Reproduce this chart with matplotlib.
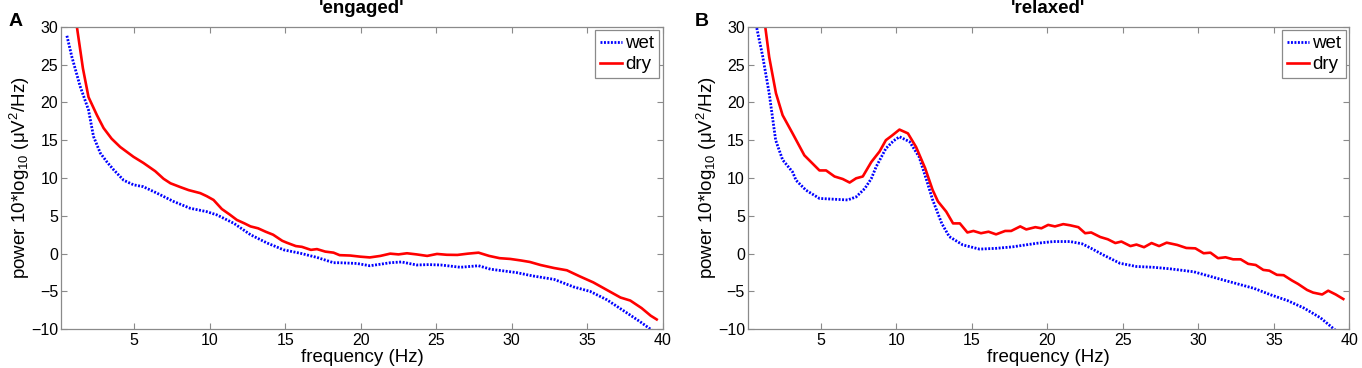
import numpy as np
import matplotlib.pyplot as plt

plt.rcParams['font.family'] = ['Liberation Sans', 'DejaVu Sans']
plt.rcParams['mathtext.fontset'] = 'custom'
plt.rcParams['mathtext.rm'] = 'Liberation Sans'
plt.rcParams['mathtext.it'] = 'Liberation Sans'

# -- 'engaged' (painel A)
f_eng_dry = [0.75, 1.2, 1.6, 1.97, 2.53, 2.97, 3.5, 4.07, 4.95, 5.6, 6.39, 6.94, 7.4, 8.05, 8.6,
             9.37, 9.8, 10.25, 10.8, 11.3, 11.8, 12.3, 12.7, 13.2, 13.7, 14.2, 14.8, 15.1, 15.7,
             16.1, 16.7, 17.1, 17.65, 18.2, 18.6, 19.3, 19.97, 20.6, 21.3, 21.95, 22.5, 23.06,
             23.7, 24.4, 25.05, 25.7, 26.4, 27.1, 27.8, 28.5, 29.2, 29.9, 30.6, 31.2, 31.9, 32.8,
             33.65, 34.5, 35.4, 36.3, 37.2, 37.85, 38.6, 39.2, 39.6]
p_eng_dry = [35, 30, 24.5, 20.7, 18.3, 16.6, 15.2, 14.1, 12.8, 12.0, 10.9, 9.9, 9.3, 8.8, 8.4,
             8.0, 7.6, 7.1, 5.9, 5.2, 4.45, 4.0, 3.6, 3.35, 2.9, 2.5, 1.7, 1.45, 1.0,
             0.9, 0.5, 0.6, 0.27, 0.13, -0.2, -0.25, -0.4, -0.5, -0.3, 0.0, -0.1, 0.05,
             -0.1, -0.3, -0.04, -0.15, -0.17, 0.0, 0.13, -0.3, -0.6, -0.7, -0.9, -1.1, -1.5, -1.9,
             -2.2, -3.0, -3.8, -4.8, -5.8, -6.2, -7.2, -8.2, -8.7]

f_eng_wet = [0.54, 0.87, 1.42, 1.97, 2.3, 2.75, 3.2, 3.63, 4.3, 4.95, 5.6, 6.5, 7.6, 8.7, 9.8,
             10.5, 11.6, 12.7, 13.8, 14.9, 16.0, 17.1, 18.2, 18.6, 19.75, 20.6, 21.3, 21.95, 22.7,
             23.7, 24.5, 25.3, 26.6, 27.8, 28.6, 30.3, 31.4, 32.8, 34.1, 35.2, 36.3, 37.6, 38.5,
             39.2, 39.6]
p_eng_wet = [28.8, 26.0, 22.1, 19.0, 15.5, 13.3, 12.1, 11.1, 9.7, 9.1, 8.85, 8.0, 6.9, 6.0, 5.55,
             5.1, 4.0, 2.5, 1.4, 0.5, 0.05, -0.5, -1.2, -1.2, -1.3, -1.6, -1.4, -1.2, -1.1,
             -1.5, -1.45, -1.5, -1.8, -1.6, -2.06, -2.5, -2.95, -3.4, -4.4, -5.0, -6.1, -7.8, -9.0,
             -10.0, -10.6]

# -- 'relaxed' (painel B)
f_rel_dry = [1.0, 1.31, 1.57, 2.02, 2.46, 3.12, 3.9, 4.9, 5.34, 5.9, 6.44, 6.9, 7.33, 7.77, 8.33,
             8.88, 9.3, 9.7, 10.2, 10.76, 11.3, 11.9, 12.4, 12.75, 13.3, 13.75, 14.2, 14.7, 15.1,
             15.6, 16.1, 16.6, 17.2, 17.6, 18.2, 18.6, 19.2, 19.6, 20.05, 20.5, 21.05, 21.5, 22.05,
             22.5, 22.9, 23.5, 24.0, 24.5, 24.9, 25.5, 25.9, 26.4, 26.9, 27.4, 27.9, 28.6, 29.2,
             29.8, 30.35, 30.8, 31.3, 31.8, 32.3, 32.8, 33.3, 33.8, 34.3, 34.7, 35.2, 35.65, 36.2,
             36.6, 37.2, 37.6, 38.2, 38.6, 39.1, 39.6]
p_rel_dry = [34, 30, 26, 21.2, 18.3, 15.9, 13.0, 11.0, 11.0, 10.2, 9.87, 9.4, 9.96, 10.2, 12.1,
             13.5, 15.0, 15.6, 16.4, 15.9, 14.1, 11.3, 8.4, 6.9, 5.55, 4.0, 4.0, 2.8, 3.0,
             2.7, 2.9, 2.55, 3.0, 3.0, 3.6, 3.2, 3.5, 3.35, 3.8, 3.6, 3.9, 3.75, 3.5,
             2.7, 2.8, 2.2, 1.9, 1.4, 1.6, 1.0, 1.2, 0.85, 1.4, 1.0, 1.45, 1.15, 0.75,
             0.7, 0.05, 0.13, -0.6, -0.48, -0.75, -0.75, -1.35, -1.5, -2.15, -2.25, -2.8, -2.85, -3.55,
             -4.0, -4.8, -5.15, -5.4, -4.9, -5.4, -6.0]

f_rel_wet = [0.5, 0.73, 1.13, 1.57, 2.0, 2.46, 3.12, 3.35, 4.0, 4.9, 5.8, 6.77, 7.33, 7.9, 8.33,
             8.66, 9.3, 9.8, 10.2, 10.87, 11.5, 12.0, 12.4, 13.0, 13.5, 14.4, 15.5, 16.6, 17.7,
             18.2, 19.3, 20.4, 21.5, 22.3, 22.9, 23.7, 24.8, 25.9, 27.0, 28.1, 29.7, 31.4, 32.6,
             33.7, 34.8, 35.9, 37.0, 38.1, 39.0, 39.4]
p_rel_wet = [33, 30, 26.2, 21.2, 15.0, 12.4, 10.8, 9.7, 8.4, 7.3, 7.2, 7.1, 7.5, 8.6, 9.9,
             11.5, 13.9, 14.9, 15.45, 14.8, 12.8, 9.7, 7.1, 4.0, 2.25, 1.15, 0.6, 0.7, 0.9,
             1.05, 1.37, 1.6, 1.6, 1.3, 0.7, -0.17, -1.27, -1.7, -1.8, -2.0, -2.4, -3.35, -4.0,
             -4.6, -5.45, -6.2, -7.2, -8.5, -10.0, -10.6]

paineis = [
    ('A', "'engaged'", f_eng_wet, p_eng_wet, f_eng_dry, p_eng_dry),
    ('B', "'relaxed'", f_rel_wet, p_rel_wet, f_rel_dry, p_rel_dry),
]

cinza = '#8a8a8a'
fig = plt.figure(figsize=(13.62, 3.68), dpi=100)
posicoes = [[0.0448, 0.1052, 0.4418, 0.8222], [0.549, 0.1052, 0.4417, 0.8222]]

for pos, (letra, titulo, fw, pw, fd, pd_) in zip(posicoes, paineis):
    ax = fig.add_axes(pos)
    ax.plot(fw, pw, color='#0000ff', lw=2.0, linestyle=(0, (0.7, 0.55)), label='wet')
    ax.plot(fd, pd_, color='#ff0000', lw=1.9, label='dry')
    ax.set_xlim(0.15, 40)
    ax.set_ylim(-10, 30)
    ax.set_xticks(np.arange(5, 41, 5))
    ax.set_yticks(np.arange(-10, 31, 5))
    ax.tick_params(direction='in', top=True, right=True, length=4.3, width=0.8,
                   color=cinza, labelsize=11.5, pad=3)
    ax.tick_params(axis='y', pad=2)
    for s in ax.spines.values():
        s.set_color(cinza)
        s.set_linewidth(0.9)
    ax.text(0.5, 1.045, titulo, transform=ax.transAxes, ha='center', va='baseline',
            fontsize=13.5, fontweight='bold')
    ax.text(0.5, -0.108, 'frequency (Hz)', transform=ax.transAxes, ha='center',
            va='baseline', fontsize=13.5)
    leg = ax.legend(loc='upper right', fontsize=13.5, handlelength=1.2, handletextpad=0.15,
                    borderpad=0.25, labelspacing=0.2, borderaxespad=0.2, fancybox=False,
                    edgecolor=cinza, framealpha=1)
    leg.get_frame().set_linewidth(0.9)
    x0 = pos[0]
    fig.text(x0 - 0.0389, 0.929, letra, fontsize=14, fontweight='bold', ha='left', va='baseline')
    fig.text(x0 - 0.0302, pos[1] + pos[3] / 2, r'power 10*log$_{10}$ ($\mu$V$^2$/Hz)',
             rotation=90, ha='center', va='center', fontsize=13.5)

fig.savefig('out.png', dpi=100)
